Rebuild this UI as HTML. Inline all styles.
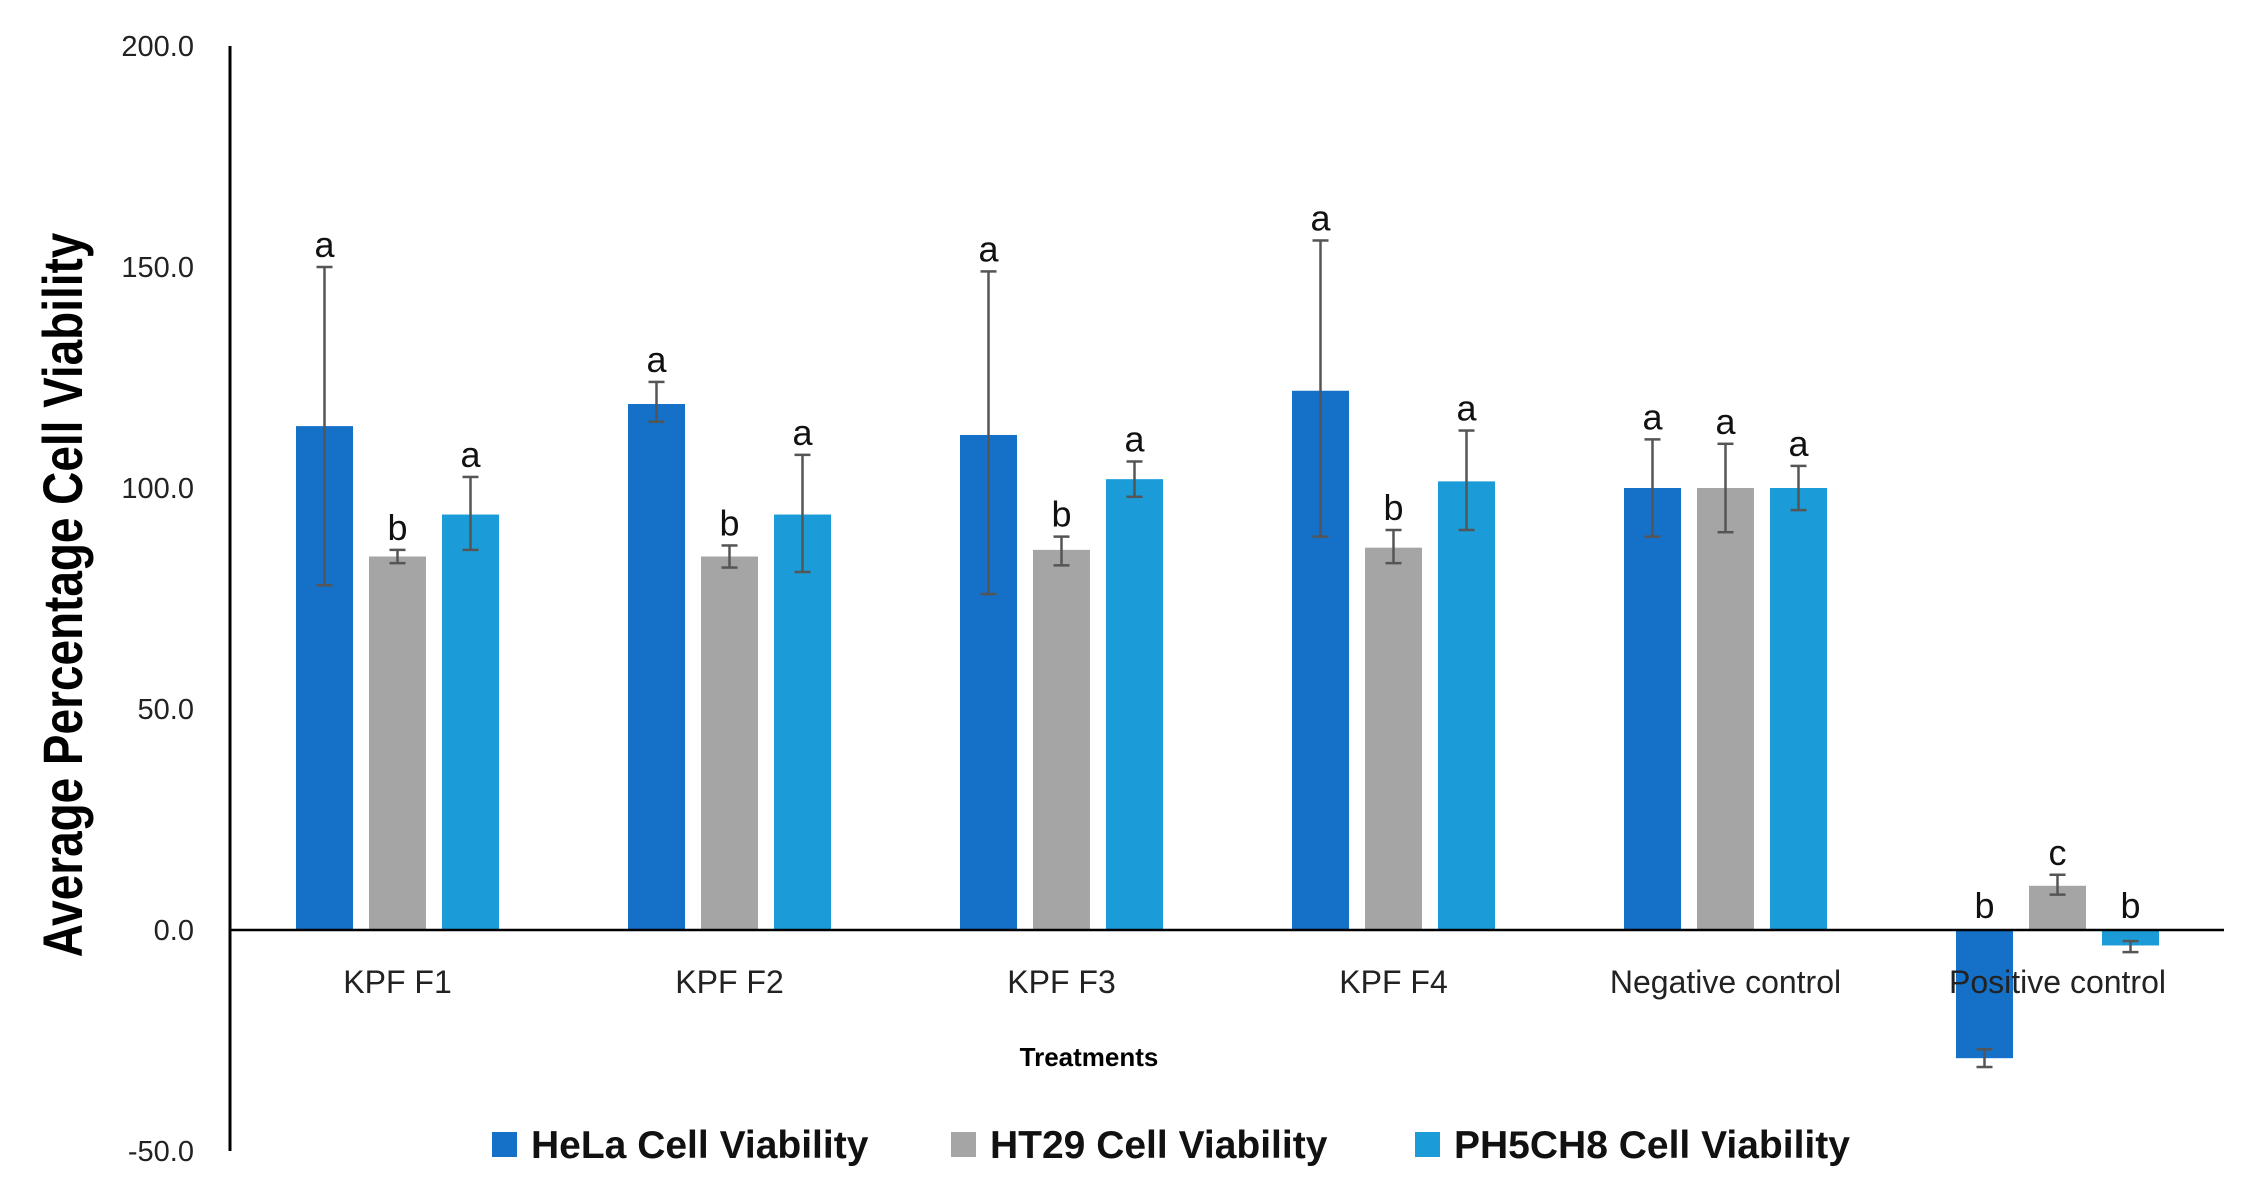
<!DOCTYPE html>
<html><head><meta charset="utf-8"><style>
body{margin:0;background:#fff;}
svg{display:block;font-family:"Liberation Sans",sans-serif;}
</style></head><body>
<svg id="chart" width="2250" height="1193" viewBox="0 0 2250 1193"></svg>
<script>
const categories=["KPF F1","KPF F2","KPF F3","KPF F4","Negative control","Positive control"];
const seriesNames=["HeLa Cell Viability","HT29 Cell Viability","PH5CH8 Cell Viability"];
const helaVals=[114,119,112,122,100,-29];
const ht29Vals=[84.5,84.5,86,86.5,100,10];
const ph5Vals=[94,94,102,101.5,100,-3.5];
const helaErrLo=[78,115,76,89,89,-31];
const helaErrHi=[150,124,149,156,111,-27];
const ht29ErrLo=[83,82,82.5,83,90,8];
const ht29ErrHi=[86,87,89,90.5,110,12.5];
const ph5ErrLo=[86,81,98,90.5,95,-5];
const ph5ErrHi=[102.5,107.5,106,113,105,-2.5];
const helaLetters=["a","a","a","a","a","b"];
const ht29Letters=["b","b","b","b","a","c"];
const ph5Letters=["a","a","a","a","a","b"];
const yTicks=[-50,0,50,100,150,200];
const colors=["#1570C8","#A5A5A5","#1B9CD8"];

const NS="http://www.w3.org/2000/svg";
const svg=document.getElementById('chart');
function el(tag,attrs,parent){const e=document.createElementNS(NS,tag);for(const k in attrs)e.setAttribute(k,attrs[k]);(parent||svg).appendChild(e);return e;}
const y0=930, pxPer=221/50;
function y(v){return y0-v*pxPer;}
const x0=397.5, gap=332;
function xc(i){return x0+i*gap;}
const offs=[-73,0,73], bw=57;

let a=el('line',{x1:230,y1:46,x2:230,y2:1151,stroke:'#000','stroke-width':3});


yTicks.forEach(t=>{
  const tx=el('text',{x:194,y:y(t)+10,'text-anchor':'end','font-size':29,fill:'#222'});
  tx.textContent=t.toFixed(1);
  
  
});
const yt=el('text',{x:0,y:0,transform:'translate(82,595) rotate(-90) scale(0.82,1)','text-anchor':'middle','font-size':56,'font-weight':'bold',fill:'#000'});
yt.textContent='Average Percentage Cell Viability';



const vals=[helaVals,ht29Vals,ph5Vals], lo=[helaErrLo,ht29ErrLo,ph5ErrLo], hi=[helaErrHi,ht29ErrHi,ph5ErrHi], letters=[helaLetters,ht29Letters,ph5Letters];
categories.forEach((c,i)=>{
  for(let s=0;s<3;s++){
    const v=vals[s][i], cx=xc(i)+offs[s];
    const r=el('rect',{x:cx-bw/2,y:Math.min(y(v),y0),width:bw,height:Math.abs(y(v)-y0),fill:colors[s]});
    
    
    const g=el('g',{stroke:'#555','stroke-width':2.5});
    
    
    el('line',{x1:cx,x2:cx,y1:y(lo[s][i]),y2:y(hi[s][i])},g);
    el('line',{x1:cx-8,x2:cx+8,y1:y(lo[s][i]),y2:y(lo[s][i])},g);
    el('line',{x1:cx-8,x2:cx+8,y1:y(hi[s][i]),y2:y(hi[s][i])},g);
    let ly = v<0 ? y0-12 : y(hi[s][i])-10;
    const lt=el('text',{x:cx,y:ly,'text-anchor':'middle','font-size':36,fill:'#111'});
    lt.textContent=letters[s][i];
    
    
  }
  const xl=el('text',{x:xc(i),y:993,'text-anchor':'middle','font-size':32,fill:'#222'});
  xl.textContent=c;
  
  
});
const zl=el('line',{x1:230,y1:y0,x2:2224,y2:y0,stroke:'#000','stroke-width':2.5});



const xt=el('text',{x:1089,y:1066,'text-anchor':'middle','font-size':26,'font-weight':'bold',fill:'#000'});
xt.textContent='Treatments';



const legX=[492,951,1415];
seriesNames.forEach((n,s)=>{
  const g=el('g',{});
  
  
  el('rect',{x:legX[s],y:1132,width:25,height:25,fill:colors[s]},g);
  const t=el('text',{x:legX[s]+39,y:1158,'font-size':39,'font-weight':'bold',fill:'#111'},g);
  t.textContent=n;
});
</script>
</body></html>
